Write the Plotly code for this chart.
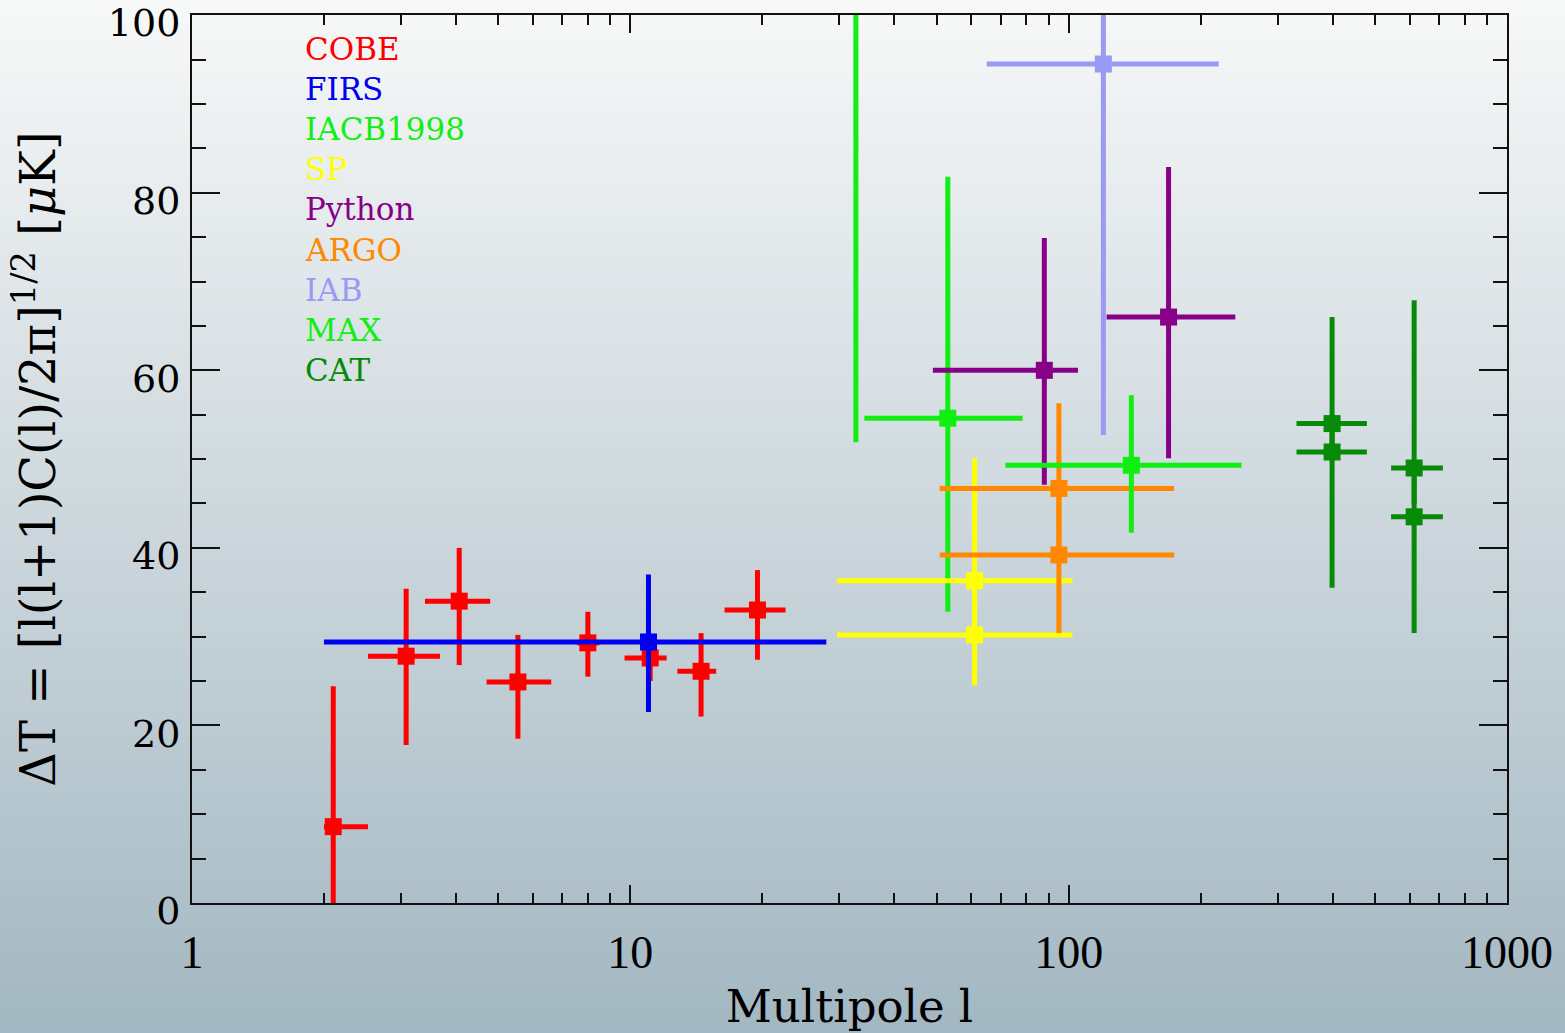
import plotly.graph_objects as go

# ---------------- data ----------------
names = ["COBE", "FIRS", "IACB1998", "SP", "Python", "ARGO", "IAB", "MAX", "CAT"]
colors = ["#ff0000", "#0000f0", "#11ee11", "#ffff00", "#880088",
          "#ff8800", "#9a9af5", "#11ee11", "#078a07"]

# multipole centre, dT, upper end, lower end, l-bin min, l-bin max
cobe_l = [2.1, 3.08, 4.07, 5.54, 8.0, 11.1, 14.5, 19.5]
cobe_dT = [8.6, 27.8, 34.0, 24.9, 29.3, 27.6, 26.1, 33.0]
cobe_hi = [24.4, 35.4, 40.0, 30.2, 32.8, 30.0, 30.4, 37.5]
cobe_lo = [0.0, 17.8, 26.8, 18.5, 25.5, 25.0, 21.0, 27.4]
cobe_lmin = [2.0, 2.52, 3.4, 4.7, 7.56, 9.7, 12.8, 16.4]
cobe_lmax = [2.52, 3.68, 4.79, 6.6, 8.5, 12.1, 15.7, 22.6]

firs_l = [11.0]
firs_dT = [29.4]
firs_hi = [37.0]
firs_lo = [21.5]
firs_lmin = [2.0]
firs_lmax = [28.0]

iacb_l = [32.7, 53.0]
iacb_dT = [111.0, 54.6]
iacb_hi = [160.0, 81.8]
iacb_lo = [51.9, 32.8]
iacb_lmin = [20.0, 34.2]
iacb_lmax = [52.0, 78.5]

sp_l = [61.0, 61.0]
sp_dT = [36.3, 30.2]
sp_hi = [50.1, 38.0]
sp_lo = [28.0, 24.5]
sp_lmin = [29.6, 29.6]
sp_lmax = [102.0, 102.0]

python_l = [88.0, 169.0]
python_dT = [60.0, 66.0]
python_hi = [74.9, 82.9]
python_lo = [47.1, 50.1]
python_lmin = [49.0, 122.0]
python_lmax = [105.0, 240.0]

argo_l = [95.0, 95.0]
argo_dT = [46.7, 39.2]
argo_hi = [56.3, 46.0]
argo_lo = [40.0, 30.4]
argo_lmin = [50.8, 50.8]
argo_lmax = [174.0, 174.0]

iab_l = [120.0]
iab_dT = [94.5]
iab_hi = [140.0]
iab_lo = [52.7]
iab_lmin = [65.0]
iab_lmax = [220.0]

max_l = [139.0]
max_dT = [49.3]
max_hi = [57.2]
max_lo = [41.7]
max_lmin = [71.7]
max_lmax = [248.0]

cat_l = [399.0, 399.0, 614.0, 614.0]
cat_dT = [54.0, 50.8, 49.0, 43.5]
cat_hi = [66.0, 55.0, 67.9, 48.0]
cat_lo = [50.0, 35.5, 45.0, 30.4]
cat_lmin = [331.0, 331.0, 544.0, 544.0]
cat_lmax = [479.0, 479.0, 714.0, 714.0]

series = [
    (cobe_l, cobe_dT, cobe_hi, cobe_lo, cobe_lmin, cobe_lmax),
    (firs_l, firs_dT, firs_hi, firs_lo, firs_lmin, firs_lmax),
    (iacb_l, iacb_dT, iacb_hi, iacb_lo, iacb_lmin, iacb_lmax),
    (sp_l, sp_dT, sp_hi, sp_lo, sp_lmin, sp_lmax),
    (python_l, python_dT, python_hi, python_lo, python_lmin, python_lmax),
    (argo_l, argo_dT, argo_hi, argo_lo, argo_lmin, argo_lmax),
    (iab_l, iab_dT, iab_hi, iab_lo, iab_lmin, iab_lmax),
    (max_l, max_dT, max_hi, max_lo, max_lmin, max_lmax),
    (cat_l, cat_dT, cat_hi, cat_lo, cat_lmin, cat_lmax),
]

x_tickvals = [1, 10, 100, 1000]
x_ticktext = ["1", "10", "100", "1000"]
x_minor = [m * d for d in (1, 10, 100) for m in range(2, 10)]
y_tickvals = [0, 20, 40, 60, 80, 100]

# ---------------- figure ----------------
W, H = 1565, 1033
ML, MR, MT, MB = 192, 58, 15, 130
PW, PH = W - ML - MR, H - MT - MB

fig = go.Figure()

for name, col, (l, dT, hi, lo, lmin, lmax) in zip(names, colors, series):
    fig.add_trace(go.Scatter(
        x=l, y=dT, mode="markers", name=name, showlegend=False,
        marker=dict(symbol="square", size=17, color=col, line=dict(width=0)),
        error_y=dict(type="data", symmetric=False,
                     array=[h - v for h, v in zip(hi, dT)],
                     arrayminus=[v - w for v, w in zip(dT, lo)],
                     color=col, thickness=5, width=0),
        error_x=dict(type="data", symmetric=False,
                     array=[b - c for b, c in zip(lmax, l)],
                     arrayminus=[c - a for c, a in zip(l, lmin)],
                     color=col, thickness=5, width=0),
    ))

# background gradient (top whitish -> bottom blue-grey)
top = (247, 248, 248)
bot = (163, 183, 194)
N = 90
shapes = []
for i in range(N):
    t = (i + 0.5) / N
    c = tuple(int(round(top[k] + (bot[k] - top[k]) * t)) for k in range(3))
    y_hi_px = i * H / N - (1.5 if i == 0 else 0)
    y_lo_px = (i + 1) * H / N + 1.5
    shapes.append(dict(
        type="rect", xref="paper", yref="paper", layer="below",
        x0=-ML / PW - 0.01, x1=1 + MR / PW + 0.01,
        y0=(H - MB - y_lo_px) / PH, y1=(H - MB - y_hi_px) / PH,
        fillcolor="rgb(%d,%d,%d)" % c, line=dict(width=0),
    ))

annotations = []
for i, (name, col) in enumerate(zip(names, colors)):
    py = 49 + 40.1 * i
    annotations.append(dict(
        text=name, xref="paper", yref="paper",
        x=(303 - ML) / PW, y=(H - MB - py) / PH,
        xanchor="left", yanchor="middle", showarrow=False,
        font=dict(family="DejaVu Serif", size=31, color=col),
    ))

axis_common = dict(showline=True, linecolor="#111", linewidth=2, mirror="allticks",
                   ticks="inside", tickcolor="#111", tickwidth=2, automargin=False,
                   showgrid=False, zeroline=False, ticklabeloverflow="allow")

fig.update_layout(
    width=W, height=H,
    margin=dict(l=ML, r=MR, t=MT, b=MB, autoexpand=False),
    paper_bgcolor="rgb(190,202,208)",
    plot_bgcolor="rgba(0,0,0,0)",
    shapes=shapes,
    annotations=annotations,
    showlegend=False,
    xaxis=dict(type="log", range=[0, 3], tickmode="array",
               tickvals=x_tickvals, ticktext=x_ticktext, ticklen=18,
               minor=dict(tickmode="array", tickvals=x_minor, ticks="inside",
                          ticklen=10, tickcolor="#111", tickwidth=2),
               tickfont=dict(family="Liberation Serif", size=46, color="black"),
               ticklabelstandoff=8,
               title=dict(text="Multipole l",
                          font=dict(family="DejaVu Serif", size=45, color="black"),
                          standoff=14),
               **axis_common),
    yaxis=dict(range=[0, 100.02], tickmode="array", tickvals=y_tickvals, ticklen=28,
               minor=dict(dtick=5, ticks="inside", ticklen=14,
                          tickcolor="#111", tickwidth=2),
               tickfont=dict(family="DejaVu Serif", size=38, color="black"),
               ticklabelstandoff=2, ticklabelshift=8,
               title=dict(text="ΔT = [l(l+1)C(l)/2π]<sup>1/2</sup> [<i>μ</i>K]",
                          font=dict(family="DejaVu Serif", size=48, color="black"),
                          standoff=37),
               **axis_common),
)

fig.write_html("out.html", config={"displayModeBar": False},
               post_script="document.body.style.margin='0';document.body.style.overflow='hidden';")
